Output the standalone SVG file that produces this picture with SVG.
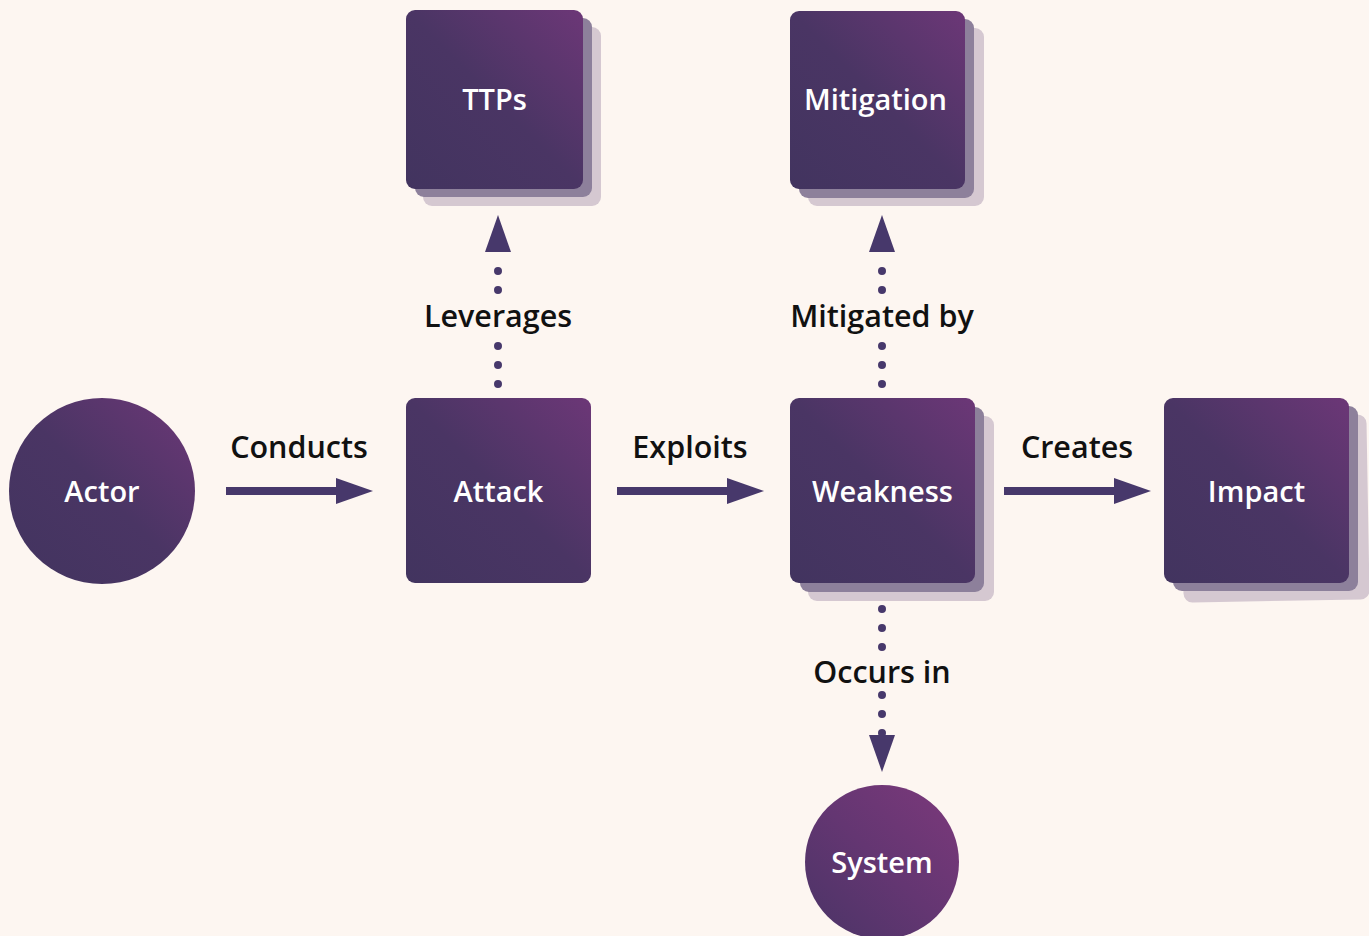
<svg xmlns="http://www.w3.org/2000/svg" width="1369" height="936" viewBox="0 0 1369 936">
<defs>
<linearGradient id="g" x1="0" y1="1" x2="1" y2="0">
<stop offset="0" stop-color="#42345f"/>
<stop offset="0.5" stop-color="#4a3564"/>
<stop offset="1" stop-color="#6c3777"/>
</linearGradient>
<linearGradient id="gs" x1="0" y1="1" x2="1" y2="0">
<stop offset="0" stop-color="#4a3466"/>
<stop offset="0.5" stop-color="#643672"/>
<stop offset="1" stop-color="#7c397b"/>
</linearGradient>
</defs>
<style>
.bg{fill:#fdf6f1}
.main{fill:url(#g)}
.s1{fill:#8d809b}
.s2{fill:#d5c8d1}
.nt{font-family:"Open Sans","Liberation Sans",sans-serif;font-size:29px;font-weight:600;fill:#ffffff;text-anchor:middle}
.lt{font-family:"Open Sans","Liberation Sans",sans-serif;font-size:30.5px;font-weight:600;fill:#111111;text-anchor:middle}
.solid{stroke:#47386b;stroke-width:8;fill:none}
.dot{stroke:#47386b;stroke-width:8;fill:none;stroke-linecap:round;stroke-dasharray:0 19}
.ah{fill:#47386b}
</style>
<rect class="bg" x="0" y="0" width="1369" height="936"/>

<g id="connectors">
<line class="solid" x1="226" y1="491" x2="338" y2="491"/>
<polygon class="ah" points="336,478 373,491 336,504"/>
<text class="lt" x="299" y="458">Conducts</text>
<line class="solid" x1="617" y1="491" x2="729" y2="491"/>
<polygon class="ah" points="727,478 764,491 727,504"/>
<text class="lt" x="690" y="458">Exploits</text>
<line class="solid" x1="1004" y1="491" x2="1116" y2="491"/>
<polygon class="ah" points="1114,478 1151,491 1114,504"/>
<text class="lt" x="1077" y="458">Creates</text>

<line class="dot" x1="498" y1="384" x2="498" y2="340"/>
<line class="dot" x1="498" y1="290" x2="498" y2="252"/>
<polygon class="ah" points="485,252 498,215 511,252"/>
<text class="lt" x="498" y="327">Leverages</text>

<line class="dot" x1="882" y1="384" x2="882" y2="340"/>
<line class="dot" x1="882" y1="290" x2="882" y2="252"/>
<polygon class="ah" points="869,252 882,215 895,252"/>
<text class="lt" x="882" y="327">Mitigated by</text>

<line class="dot" x1="882" y1="609" x2="882" y2="650"/>
<line class="dot" x1="882" y1="695" x2="882" y2="735"/>
<polygon class="ah" points="869,735 882,772 895,735"/>
<text class="lt" x="882" y="683">Occurs in</text>
</g>

<g id="actor">
<circle cx="102" cy="491" r="93" fill="url(#g)"/>
<text class="nt" x="102" y="502">Actor</text>
</g>

<g id="attack">
<rect class="main" x="406" y="398" width="185" height="185" rx="9"/>
<text class="nt" x="498.5" y="502">Attack</text>
</g>

<g id="ttps">
<rect class="s2" x="423" y="27" width="178" height="179" rx="9"/>
<rect class="s1" x="415" y="18" width="177" height="179" rx="9"/>
<rect class="main" x="406" y="10" width="177" height="179" rx="9"/>
<text class="nt" x="494.5" y="110">TTPs</text>
</g>

<g id="mitigation">
<rect class="s2" x="808" y="28" width="176" height="178" rx="9"/>
<rect class="s1" x="799" y="19" width="175" height="179" rx="9"/>
<rect class="main" x="790" y="11" width="175" height="178" rx="9"/>
<text class="nt" x="875.5" y="110">Mitigation</text>
</g>

<g id="weakness">
<rect class="s2" x="808" y="416" width="186" height="185" rx="9"/>
<rect class="s1" x="800" y="407" width="184" height="185" rx="9"/>
<rect class="main" x="790" y="398" width="185" height="185" rx="9"/>
<text class="nt" x="882.5" y="502">Weakness</text>
</g>

<g id="impact">
<rect class="s2" x="1182" y="416" width="186" height="185" rx="9" transform="rotate(-1 1275 508)"/>
<rect class="s1" x="1173" y="406" width="185" height="185" rx="9"/>
<rect class="main" x="1164" y="398" width="185" height="185" rx="9"/>
<text class="nt" x="1256.5" y="502">Impact</text>
</g>

<g id="system">
<circle cx="882" cy="862" r="77" fill="url(#gs)"/>
<text class="nt" x="882" y="873">System</text>
</g>
</svg>
